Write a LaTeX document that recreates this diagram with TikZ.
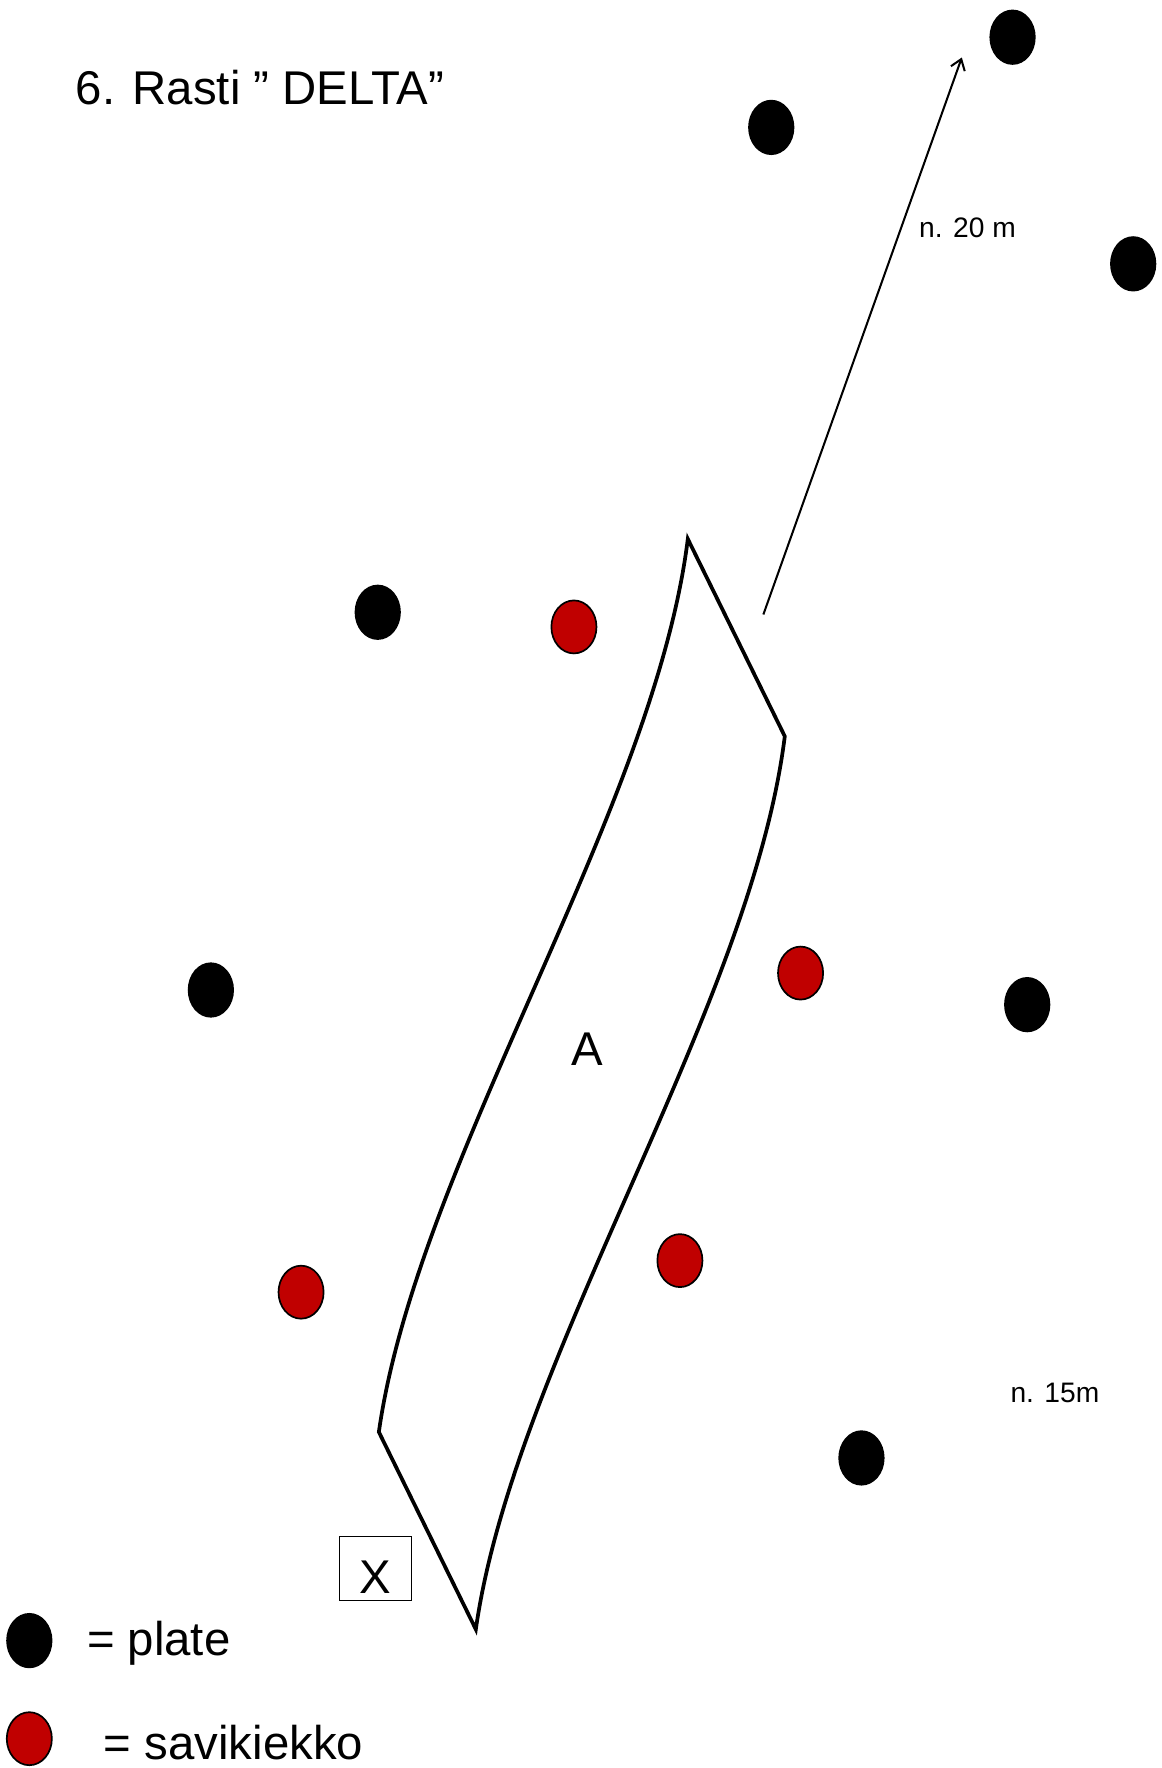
\documentclass[tikz,border=0pt]{standalone}
\usepackage{fontspec}
\setmainfont{Liberation Sans}
\usetikzlibrary{arrows.meta}
\definecolor{clayred}{RGB}{192,0,0}
\tikzset{
  plate/.style={ellipse, draw=none, fill=black, minimum width=41pt, minimum height=49pt, inner sep=0pt},
  clay/.style={ellipse, draw=black, line width=1.5pt, fill=clayred, minimum width=40pt, minimum height=47pt, inner sep=0pt},
  bigtxt/.style={font=\fontsize{42}{50}\selectfont, inner sep=0pt},
  smalltxt/.style={font=\fontsize{25}{30}\selectfont, inner sep=0pt},
  outline/.style={line width=3.3pt, line join=miter},
}
\usetikzlibrary{shapes.geometric}
\begin{document}
\begin{tikzpicture}[x=1pt,y=-1pt]
\useasboundingbox (0,0) rectangle (1030,1568);
\fill[white] (0,0) rectangle (1030,1568);

% title
\node[bigtxt, anchor=base west] (title) at (67,93) {6. Rasti ” DELTA”};

% plates
\node[plate] (p1) at (898,33) {};
\node[plate] (p2) at (684,113) {};
\node[plate] (p3) at (1005,234) {};
\node[plate] (p4) at (335,543) {};
\node[plate] (p5) at (187,878) {};
\node[plate] (p6) at (911,891) {};
\node[plate] (p7) at (764,1293) {};

% clays
\node[clay] (c1) at (509,556) {};
\node[clay] (c2) at (710,863) {};
\node[clay] (c3) at (603,1118) {};
\node[clay] (c4) at (267,1146) {};

% shape
\coordinate (top) at (610,478);
\coordinate (rc) at (696,653);
\coordinate (bot) at (422,1445);
\coordinate (lc) at (336,1270);
\draw[outline] (top) -- (rc) .. controls (666,895) and (456,1205) .. (bot) -- (lc) .. controls (370,1030) and (580,720) .. (top) -- cycle;
\node[bigtxt, anchor=base] (A) at (521,945) {A};

% arrow
\coordinate (as) at (677,545);
\coordinate (ae) at (853,51);
\draw[line width=1.8pt, -{Straight Barb[length=9pt, width=13pt, line width=1.8pt]}] (as) -- (ae);
\node[smalltxt, anchor=base west] (d20) at (815,211) {n. 20 m};
\node[smalltxt, anchor=base west] (d15) at (896,1244) {n. 15m};

% X box
\node[draw=black, line width=1.4pt, minimum width=64pt, minimum height=57pt, inner sep=0pt] (xbox) at (333,1391) {};
\node[bigtxt, anchor=base] (xl) at (333,1413) {X};

% legend
\node[plate] (lp) at (26,1455) {};
\node[bigtxt, anchor=base west] (lpt) at (77,1468) {= plate};
\node[clay] (lc2) at (26,1542) {};
\node[bigtxt, anchor=base west] (lct) at (92,1560) {= savikiekko};
\end{tikzpicture}
\end{document}
